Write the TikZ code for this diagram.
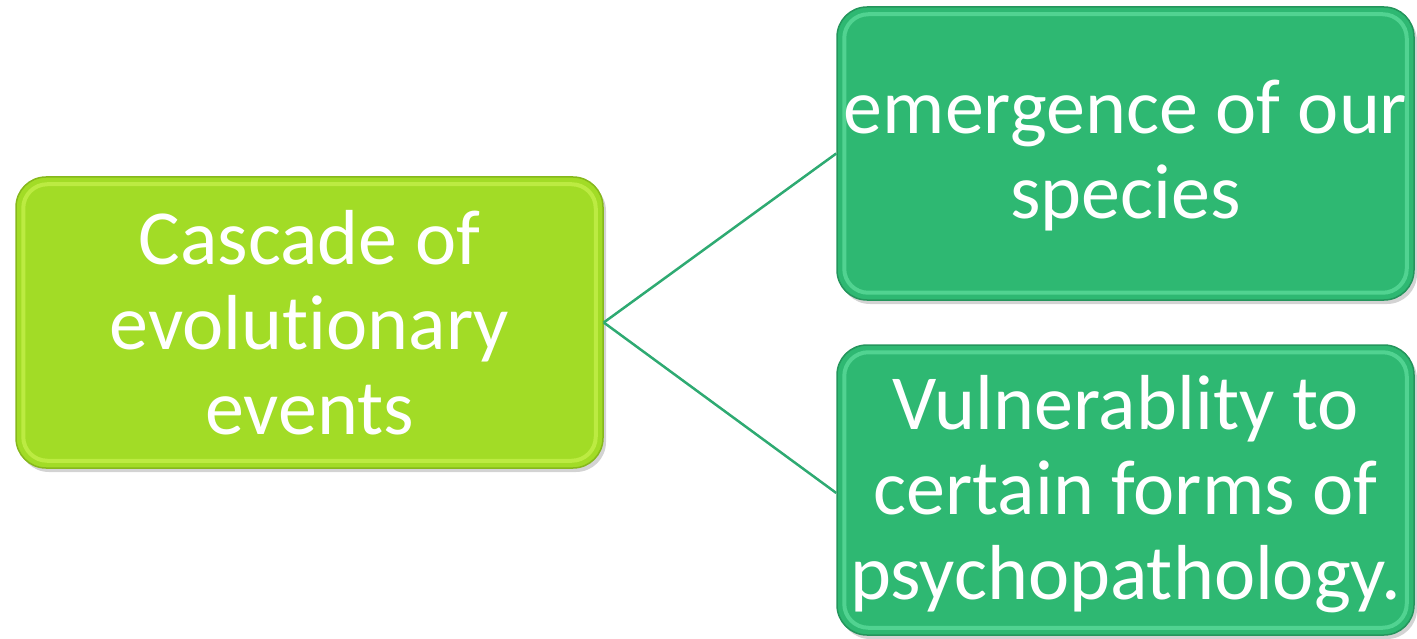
\documentclass[tikz,border=0pt]{standalone}
\usepackage{fontspec}
\setmainfont{Carlito}[Ligatures={NoCommon}]
\usetikzlibrary{shadows}
\definecolor{lime}{HTML}{A2DC26}
\definecolor{limedark}{HTML}{86B81C}
\definecolor{limelight}{HTML}{DDFF66}
\definecolor{grn}{HTML}{2EB872}
\definecolor{grndark}{HTML}{24955C}
\definecolor{grnlight}{HTML}{7DF5B8}
\definecolor{conn}{HTML}{2EAA72}
\tikzset{
  box/.style={rounded corners=30pt, draw=#1dark, line width=1.5pt, fill=#1,
    inner sep=0pt,
    drop shadow={opacity=0.35, shadow xshift=3pt, shadow yshift=-4pt}},
  hilite/.style={draw=#1light, line width=4pt, opacity=0.45, rounded corners=24pt},
  lbl/.style={text=white, align=center, inner sep=0pt, font=\fontsize{78}{85}\selectfont},
  conn/.style={draw=conn, line width=2.5pt}
}
\begin{document}
\begin{tikzpicture}[x=1pt,y=-1pt]
\useasboundingbox (0,0) rectangle (1417,639);
\node[box=lime, minimum width=587pt, minimum height=291pt] (src) at (309.5,322.5) {};
\node[box=grn, minimum width=577pt, minimum height=293pt] (em) at (1125.5,153.5) {};
\node[box=grn, minimum width=577pt, minimum height=290pt] (vu) at (1125.5,490) {};
\draw[hilite=lime] ([shift={(8pt,8pt)}]src.south west) rectangle ([shift={(-8pt,-8pt)}]src.north east);
\draw[hilite=grn] ([shift={(8pt,8pt)}]em.south west) rectangle ([shift={(-8pt,-8pt)}]em.north east);
\draw[hilite=grn] ([shift={(8pt,8pt)}]vu.south west) rectangle ([shift={(-8pt,-8pt)}]vu.north east);
\node[lbl] (srct) at (src) {Cascade of\\evolutionary\\events};
\node[lbl] (emt) at ([yshift=-2pt]em.center) {emergence of our\\species};
\node[lbl] (vut) at ([yshift=-4pt]vu.center) {Vulnerablity to\\certain forms of\\psychopathology.};
\draw[conn] (src.east) -- (em.west);
\draw[conn] (src.east) -- ([yshift=-3pt]vu.west);
\end{tikzpicture}
\end{document}
